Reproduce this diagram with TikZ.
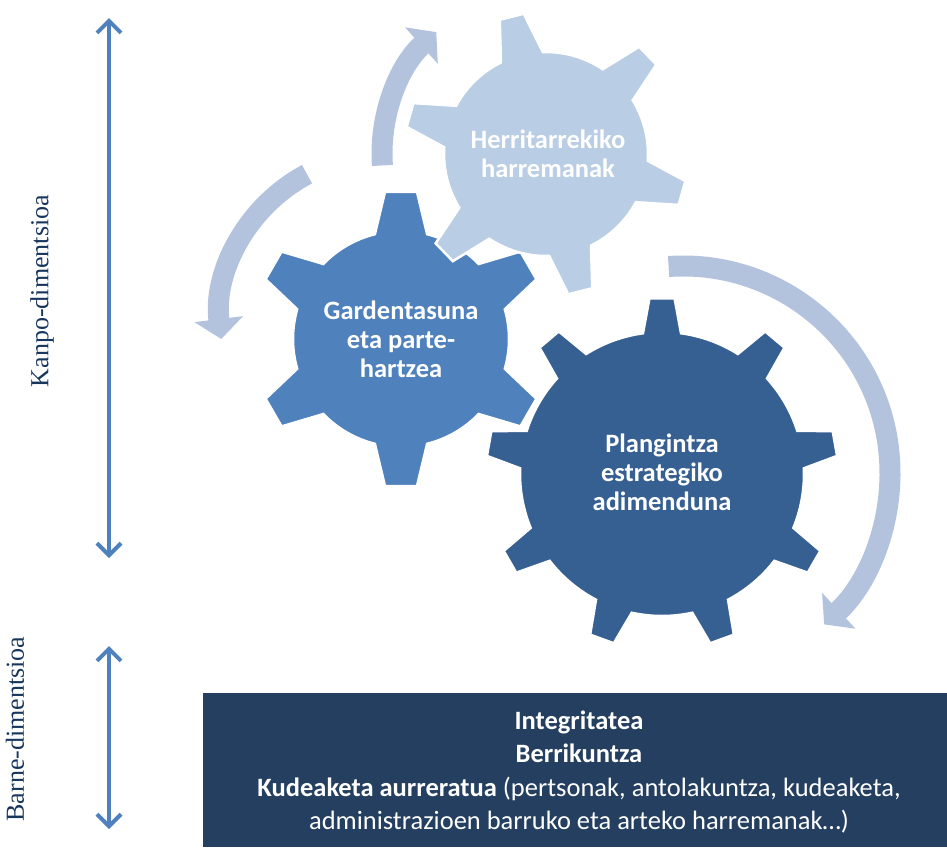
\documentclass[tikz,border=0pt]{standalone}
\usepackage{fontspec}
\setmainfont{Carlito}
\newfontfamily\sidefont{Liberation Serif}
\usetikzlibrary{arrows.meta}
\definecolor{gearlight}{RGB}{185,205,229}
\definecolor{gearmid}{RGB}{79,129,189}
\definecolor{geardark}{RGB}{55,96,146}
\definecolor{cyclearrow}{RGB}{179,195,222}
\definecolor{basefill}{RGB}{36,63,96}
\definecolor{sidetext}{RGB}{23,54,93}
\tikzset{
  geartext/.style={text=white, font=\bfseries\fontsize{26.5}{28.8}\selectfont, align=center},
  boxtext/.style={text=white, font=\fontsize{26.5}{33.3}\selectfont, align=center},
  cycleflow/.style={draw=cyclearrow, line width=21pt, -{Triangle[width=48pt,length=20pt]}},
  dimflow/.style={draw=gearmid, line width=4pt,
    {Straight Barb[length=12pt,width=24pt]}-{Straight Barb[length=12pt,width=24pt]}},
  sidelabel/.style={text=sidetext, font=\sidefont\fontsize{26}{30}\selectfont, rotate=90},
  gearbody/.style={fill=#1, draw=white, line width=2.5pt, line join=miter}
}
% gear outline: style, cx, cy, teeth, first tooth angle, body radius, tip radius, half base angle, half tip angle
\newcommand{\drawgear}[9]{%
  \begin{scope}[shift={(#2,#3)}]
    \pgfmathsetmacro{\gstep}{360/#4}
    \path[#1] ({#5-#8}:#6)
      \foreach \k in {1,...,#4}{
        -- ({#5+(\k-1)*\gstep-#9}:#7) -- ({#5+(\k-1)*\gstep+#9}:#7)
        -- ({#5+(\k-1)*\gstep+#8}:#6)
        arc[start angle={#5+(\k-1)*\gstep+#8}, end angle={#5+\k*\gstep-#8}, radius=#6]
      } -- cycle;
  \end{scope}}

\begin{document}
\begin{tikzpicture}[x=1pt, y=1pt]
\useasboundingbox (0,0) rectangle (947,-847);

% gears
\drawgear{gearbody=geardark}{662}{-474}{9}{90}{142}{176}{7.7}{4.1}
\drawgear{gearbody=gearmid}{401}{-339}{6}{90}{108}{148}{14}{6.2}
\drawgear{gearbody=gearlight}{546}{-154}{6}{-16}{102}{142}{12.2}{5}

\node[geartext] (lighttext) at (548,-154) {Herritarrekiko\\harremanak};
\node[geartext] (midtext) at (401,-339) {Gardentasuna\\eta parte-\\hartzea};
\node[geartext] (darktext) at (662,-472) {Plangintza\\estrategiko\\adimenduna};

% rotation arrows
\coordinate (lightc) at (546,-154);
\coordinate (midc) at (384,-319);
\coordinate (darkc) at (683,-473);
\coordinate (cyclea) at ([shift={(184:164)}]lightc);
\coordinate (cycleb) at ([shift={(118:164)}]midc);
\coordinate (cyclec) at ([shift={(94:207)}]darkc);
\draw[cycleflow] (cyclea) arc[start angle=184, end angle=132, radius=164];
\draw[cycleflow] (cycleb) arc[start angle=118, end angle=187, radius=164];
\draw[cycleflow] (cyclec) arc[start angle=94, end angle=-47, radius=207];

% dimensions
\coordinate (outtop) at (109,-18);
\coordinate (outbot) at (109,-558);
\coordinate (intop) at (109,-646);
\coordinate (inbot) at (109,-829);
\draw[dimflow] (outtop) -- (outbot);
\draw[dimflow] (intop) -- (inbot);
\node[sidelabel] (outlabel) at (42,-291) {Kanpo-dimentsioa};
\node[sidelabel] (inlabel) at (15,-729) {Barne-dimentsioa};

% inner base
\fill[basefill] (203,-693) rectangle (947,-847);
\node[boxtext] (basetext) at (579,-772) {\textbf{Integritatea}\\\textbf{Berrikuntza}\\
  \textbf{Kudeaketa aurreratua} (pertsonak, antolakuntza, kudeaketa,\\
  administrazioen barruko eta arteko harremanak…)};
\end{tikzpicture}
\end{document}
